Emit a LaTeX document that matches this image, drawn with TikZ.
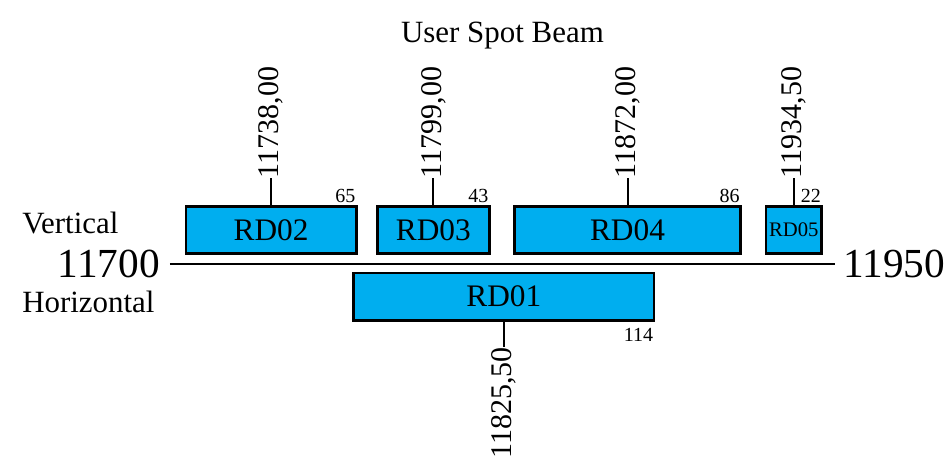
\documentclass[tikz,border=0pt]{standalone}
\usepackage{fontspec}
\setmainfont{Liberation Serif}
\usetikzlibrary{positioning}
\definecolor{beamblue}{RGB}{0,174,239}
\tikzset{
	band/.style={draw=black, line width=1.9pt, fill=beamblue, minimum height=35.6pt, inner sep=0pt, font=\fontsize{23.5}{28}\selectfont},
	centre/.style={rotate=90, inner sep=0pt, font=\fontsize{22.5}{27}\selectfont},
	bw/.style={inner sep=1.5pt, font=\fontsize{15}{18}\selectfont},
	edge/.style={inner sep=0pt, font=\fontsize{31}{37}\selectfont},
	side/.style={anchor=base west, inner sep=0pt, font=\fontsize{23.2}{28}\selectfont},
	tick/.style={line width=1.5pt},
}
\begin{document}
\begin{tikzpicture}[x=1.995pt,y=-0.75pt]
	\useasboundingbox (-63.91,0) rectangle (293.61,461);

	% title
	\node[anchor=base, inner sep=0pt, font=\fontsize{23.2}{28}\selectfont] (title) at (125,42) {User Spot Beam};

	% axis
	\coordinate (lo) at (0,264);
	\coordinate (hi) at (250,264);
	\draw[line width=1.6pt] (lo) -- (hi);
	\node[edge, left=7.5pt of lo] (f11700) {11700};
	\node[edge, right=6pt of hi] (f11950) {11950};

	% polarisation
	\node[side] (vert) at (-55.64,233) {Vertical};
	\node[side] (horiz) at (-55.64,312) {Horizontal};

	% channels
	\node[band, minimum width={65*1.995pt-1.9pt}] (rd02) at (38,230) {RD02};
	\node[band, minimum width={43*1.995pt-1.9pt}] (rd03) at (99,230) {RD03};
	\node[band, minimum width={86*1.995pt-1.9pt}] (rd04) at (172,230) {RD04};
	\node[band, minimum width={22*1.995pt-1.9pt}, font=\fontsize{15.5}{18}\selectfont] (rd05) at (234.5,230) {RD05};
	\node[band, minimum width={114*1.995pt-1.9pt}] (rd01) at (125.5,296.5) {RD01};

	% centre frequencies
	\node[centre, above=20pt of rd02.north, anchor=west] (c02) {11738,00};
	\node[centre, above=20pt of rd03.north, anchor=west] (c03) {11799,00};
	\node[centre, above=20pt of rd04.north, anchor=west] (c04) {11872,00};
	\node[centre, above=20pt of rd05.north, anchor=west] (c05) {11934,50};
	\node[centre, below=19pt of rd01.south, anchor=east] (c01) {11825,50};
	\draw[tick] (rd02.north) -- (c02.west);
	\draw[tick] (rd03.north) -- (c03.west);
	\draw[tick] (rd04.north) -- (c04.west);
	\draw[tick] (rd05.north) -- (c05.west);
	\draw[tick] (rd01.south) -- (c01.east);

	% bandwidths
	\node[bw, anchor=south east] (w02) at (rd02.north east) {65};
	\node[bw, anchor=south east] (w03) at (rd03.north east) {43};
	\node[bw, anchor=south east] (w04) at (rd04.north east) {86};
	\node[bw, anchor=south east] (w05) at (rd05.north east) {22};
	\node[bw, anchor=north east, yshift=-3.5pt] (w01) at (rd01.south east) {114};

\end{tikzpicture}
\end{document}
